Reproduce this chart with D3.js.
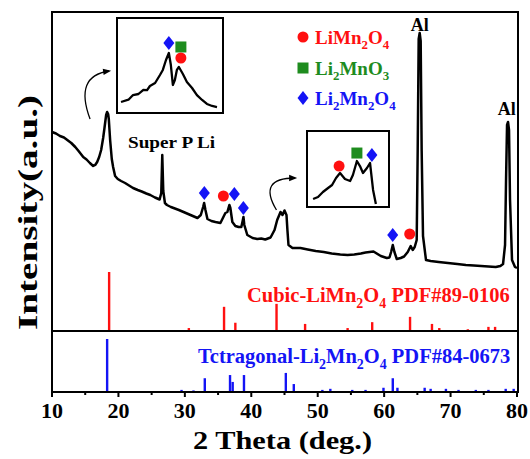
<!DOCTYPE html>
<html><head><meta charset="utf-8">
<script src="https://cdn.jsdelivr.net/npm/d3@7"></script>
<style>
html,body{margin:0;padding:0;background:#fff;}
svg text{font-family:"Liberation Serif","Times New Roman",serif;font-weight:bold;}
</style></head>
<body>
<svg id="chart" width="530" height="459"></svg>
<script>
// ---- data ----
const twoTheta = [10.0,10.6,11.2,11.8,12.3,12.9,13.5,14.0,14.7,15.2,15.7,16.2,16.5,16.8,17.1,17.4,17.7,17.9,18.15,18.3,18.45,18.55,18.75,19.0,19.2,19.5,19.9,20.4,21.0,21.6,22.2,22.9,23.5,24.2,24.8,25.5,26.2,26.45,26.6,26.75,27.0,27.3,27.9,28.5,29.1,29.8,30.5,31.2,31.9,32.4,32.75,32.9,33.1,33.4,34.0,34.6,35.35,35.8,36.1,36.4,36.7,36.85,37.15,37.6,38.1,38.5,38.7,38.82,38.95,39.4,40.2,40.9,41.5,42.1,42.9,43.5,43.9,44.4,44.7,45.0,45.3,45.45,45.6,46.2,47.4,48.5,49.7,50.9,52.1,53.4,54.5,55.5,56.5,57.2,58.4,59.5,60.4,60.8,61.05,61.3,61.55,61.9,62.5,63.0,63.55,64.0,64.3,64.6,64.9,65.05,65.2,65.35,65.5,65.65,65.85,66.3,67.0,68.2,69.6,71.0,72.3,73.5,74.6,75.7,76.8,77.5,77.9,78.2,78.35,78.5,78.65,78.8,78.95,79.25,79.7,80.0];
const intensity = [1990,1975,1950,1935,1910,1880,1840,1800,1740,1715,1680,1650,1660,1690,1740,1810,1930,2030,2160,2190,2170,2120,1910,1720,1640,1550,1520,1500,1480,1455,1430,1410,1395,1375,1360,1335,1315,1380,1760,1400,1280,1260,1240,1225,1210,1190,1170,1150,1130,1160,1240,1280,1210,1120,1100,1090,1080,1140,1180,1190,1260,1230,1090,1050,1040,1040,1100,1140,1060,960,930,920,925,915,935,1010,1110,1190,1160,1205,1160,1000,860,830,830,815,800,790,775,765,760,765,775,785,795,750,730,735,790,860,790,720,730,745,790,850,810,840,910,1800,2920,2980,2900,1800,950,710,700,690,680,670,660,655,650,645,640,650,670,860,1510,2060,2090,2010,1310,710,640,630];

// reference sticks: cubic LiMn2O4 PDF#89-0106
const cubicPos = [18.6,30.6,35.9,37.6,43.8,48.1,54.5,58.2,63.9,67.2,68.3,72.6,75.7,76.7];
const cubicRel = [100,5,41,14,46,12,5,15,24,12,5,3,7,7];
// tetragonal Li2Mn2O4 PDF#84-0673
const tetPos = [18.3,29.5,31.3,33.0,36.8,37.2,38.9,45.2,46.4,50.7,51.9,55.2,57.2,59.9,61.3,62.0,66.1,67.0,69.3,71.2,73.8,75.7,78.3,79.5];
const tetRel = [100,4,3,26,32,19,32,36,15,4,6,4,4,8,26,8,8,6,6,4,4,4,6,6];

// phase markers on main pattern
const markerType = ["diamond","circle","diamond","diamond","diamond","circle"];
const markerTheta = [32.93,35.8,37.45,38.81,61.29,63.85];
const markerInt = [1380,1350,1370,1230,960,970];

// inset 1 (around 18.5 deg)
const inset1Theta = [16.64,16.9,17.06,17.25,17.41,17.55,17.65,17.83,18.0,18.1,18.21,18.31,18.38,18.45,18.52,18.59,18.66,18.8,18.94,19.12,19.29,19.47,19.64,19.82,19.99];
const inset1Int = [11.6,14,18.9,20,24.2,24,28.4,31.6,40,45.3,55.8,63.2,50.5,29.5,34.7,45.3,48.4,41,32.6,26.3,18.9,13.7,9.5,7.4,6.3];
const inset1MarkType = ["diamond","square","circle"];
const inset1MarkTheta = [18.31,18.73,18.73];
const inset1MarkInt = [73.7,69.5,57.9];

// inset 2 (around 44.5 deg)
const inset2Theta = [42.76,42.97,43.18,43.4,43.57,43.74,43.91,44.12,44.34,44.46,44.63,44.76,44.89,45.06,45.19,45.32,45.44];
const inset2Int = [10.5,13.2,19.7,25,28.9,38.2,44.7,36.8,34.2,42.1,60.5,53.9,44.7,51.3,57.9,22.4,3.9];
const inset2MarkType = ["circle","square","diamond"];
const inset2MarkTheta = [43.87,44.63,45.27];
const inset2MarkInt = [53.9,71,68.4];

const xTicks = [10,20,30,40,50,60,70,80];
const xMinor = [15,25,35,45,55,65,75];

const legendLabels = [["LiMn","2","O","4"],["Li","2","MnO","3"],["Li","2","Mn","2","O","4"]];
const legendTypes = ["circle","square","diamond"];

// ---- drawing ----
const RED="#ff1010", GREEN="#1e8c1e", BLUE="#1414f5";
const colorOf = {circle:RED, square:GREEN, diamond:BLUE};
const svg = d3.select("#chart");
const L=52, R=517, T=12, MID=331, B=392;

const x = d3.scaleLinear().domain([10,80]).range([L,R]);
const yP = d3.scaleLinear().domain([0,3190]).range([MID,T]);
const yC = d3.scaleLinear().domain([0,100]).range([MID,MID-59]);
const yT = d3.scaleLinear().domain([0,100]).range([B,B-53]);

function marker(g, type, cx, cy){
  if(type==="circle") g.append("circle").attr("cx",cx).attr("cy",cy).attr("r",5.5).attr("fill",RED);
  else if(type==="square") g.append("rect").attr("x",cx-5.5).attr("y",cy-5.5).attr("width",11).attr("height",11).attr("fill",GREEN);
  else g.append("path").attr("d",`M${cx},${cy-7}L${cx+5.5},${cy}L${cx},${cy+7}L${cx-5.5},${cy}Z`).attr("fill",BLUE);
}

// sticks
svg.append("g").selectAll("line").data(cubicPos).join("line")
  .attr("x1",d=>x(d)).attr("x2",d=>x(d)).attr("y1",yC(0)).attr("y2",(d,i)=>yC(cubicRel[i]))
  .attr("stroke",RED).attr("stroke-width",2.4);
svg.append("g").selectAll("line").data(tetPos).join("line")
  .attr("x1",d=>x(d)).attr("x2",d=>x(d)).attr("y1",yT(0)).attr("y2",(d,i)=>yT(tetRel[i]))
  .attr("stroke",BLUE).attr("stroke-width",2.4);

// main pattern
const pts = twoTheta.map((t,i)=>[t,intensity[i]]);
svg.append("path").datum(pts)
  .attr("d", d3.line().x(d=>x(d[0])).y(d=>yP(d[1])))
  .attr("fill","none").attr("stroke","#000").attr("stroke-width",2.5).attr("stroke-linejoin","round");

const mg = svg.append("g");
markerType.forEach((t,i)=>marker(mg,t,x(markerTheta[i]),yP(markerInt[i])));

// frame
svg.append("rect").attr("x",L).attr("y",T).attr("width",R-L+1).attr("height",B-T)
  .attr("fill","none").attr("stroke","#000").attr("stroke-width",2);
svg.append("line").attr("x1",L).attr("x2",R+1).attr("y1",MID).attr("y2",MID).attr("stroke","#000").attr("stroke-width",2);

// ticks
svg.append("g").selectAll("line").data(xTicks).join("line")
  .attr("x1",d=>x(d)).attr("x2",d=>x(d)).attr("y1",B).attr("y2",B+5).attr("stroke","#000").attr("stroke-width",2);
svg.append("g").selectAll("line").data(xMinor).join("line")
  .attr("x1",d=>x(d)).attr("x2",d=>x(d)).attr("y1",B).attr("y2",B+3).attr("stroke","#000").attr("stroke-width",2);
svg.append("g").selectAll("text").data(xTicks).join("text")
  .attr("x",d=>x(d)).attr("y",418).attr("text-anchor","middle").attr("font-size",22).text(d=>d);

// axis titles
svg.append("text").attr("x",193).attr("y",449).attr("font-size",26)
  .attr("textLength",179).attr("lengthAdjust","spacingAndGlyphs").text("2 Theta (deg.)");
svg.append("text").attr("transform","translate(37,330) rotate(-90)").attr("font-size",28)
  .attr("textLength",235).attr("lengthAdjust","spacingAndGlyphs").text("Intensity(a.u.)");

// labels
svg.append("text").attr("x",128).attr("y",148).attr("font-size",17).attr("textLength",87).attr("lengthAdjust","spacingAndGlyphs").text("Super P Li");
svg.append("text").attr("x",x(65.35)).attr("y",31).attr("text-anchor","middle").attr("font-size",18).text("Al");
svg.append("text").attr("x",x(78.6)-1).attr("y",115).attr("text-anchor","middle").attr("font-size",18).text("Al");

function chem(parent, parts, xx, yy, size, color){
  const t = parent.append("text").attr("x",xx).attr("y",yy).attr("font-size",size).attr("fill",color);
  let prevSub = false;
  parts.forEach(p=>{
    const sub = /^[0-9]$/.test(p);
    const s = t.append("tspan").text(p);
    if(sub){ s.attr("font-size",size*0.68).attr("dy",size*0.28); }
    else if(prevSub){ s.attr("dy",-size*0.28); }
    prevSub = sub;
  });
  return t;
}

// legend
const lg = svg.append("g");
const legY = [37,68,98];
legendTypes.forEach((t,i)=>{
  marker(lg,t,303,legY[i]);
  chem(lg, legendLabels[i], 315, legY[i]+7, 19, colorOf[t]);
});

// reference labels
chem(svg, ["Cubic-LiMn","2","O","4"," PDF#89-0106"], 247, 302, 20.5, RED);
chem(svg, ["Tctragonal-Li","2","Mn","2","O","4"," PDF#84-0673"], 198, 363, 20.5, BLUE);

// insets
function inset(box, dom, th, it, mt, mth, mit){
  const g = svg.append("g");
  g.append("rect").attr("x",box[0]).attr("y",box[1]).attr("width",box[2]-box[0]).attr("height",box[3]-box[1])
    .attr("fill","#fff").attr("stroke","#000").attr("stroke-width",2);
  const xi = d3.scaleLinear().domain(dom).range([box[0],box[2]]);
  const yi = d3.scaleLinear().domain([0,100]).range([box[3],box[1]]);
  g.append("path").datum(th.map((t,i)=>[t,it[i]]))
    .attr("d",d3.line().x(d=>xi(d[0])).y(d=>yi(d[1])))
    .attr("fill","none").attr("stroke","#000").attr("stroke-width",2.3).attr("stroke-linejoin","round");
  mt.forEach((t,i)=>marker(g,t,xi(mth[i]),yi(mit[i])));
}
inset([117,18,223,113],[16.5,20.2],inset1Theta,inset1Int,inset1MarkType,inset1MarkTheta,inset1MarkInt);
inset([307,131,389,207],[42.5,46.0],inset2Theta,inset2Int,inset2MarkType,inset2MarkTheta,inset2MarkInt);

// arrows (in data coordinates)
function arrow(p0,c,p1){
  const a=[x(p0[0]),yP(p0[1])], q=[x(c[0]),yP(c[1])], b=[x(p1[0]),yP(p1[1])];
  svg.append("path").attr("d",`M${a[0]},${a[1]}Q${q[0]},${q[1]} ${b[0]},${b[1]}`)
    .attr("fill","none").attr("stroke","#000").attr("stroke-width",1.3);
  const ang = Math.atan2(b[1]-q[1], b[0]-q[0]);
  const len=8, w=3.2;
  const tip=[b[0]+Math.cos(ang)*2,b[1]+Math.sin(ang)*2];
  const p2=[tip[0]-len*Math.cos(ang)+w*Math.sin(ang), tip[1]-len*Math.sin(ang)-w*Math.cos(ang)];
  const p3=[tip[0]-len*Math.cos(ang)-w*Math.sin(ang), tip[1]-len*Math.sin(ang)+w*Math.cos(ang)];
  svg.append("path").attr("d",`M${tip}L${p2}L${p3}Z`).attr("fill","#000");
}
arrow([15.73,2120],[13.3,2550],[18.6,2600]);
arrow([43.79,1210],[40.9,1530],[46.6,1530]);
</script>
</body></html>
